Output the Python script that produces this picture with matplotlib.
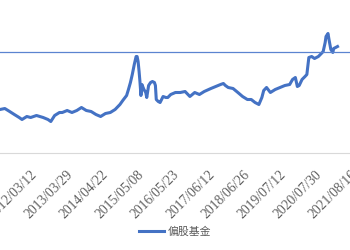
import matplotlib
matplotlib.use("Agg")
import matplotlib.pyplot as plt

# trading-day index of each sample and fund index level
day_index = [0, 34, 68, 101, 135, 155, 189, 216, 257, 304, 338, 358, 385, 419, 439, 473,
             507, 541, 574, 608, 642, 676, 709, 743, 777, 811, 845, 865, 892, 905, 919, 932,
             946, 959, 966, 973, 980, 986, 993, 1000, 1014, 1027, 1034, 1047, 1061, 1074,
             1088, 1095, 1101, 1115, 1128, 1149, 1169, 1182, 1203, 1236, 1270, 1304, 1338,
             1372, 1405, 1439, 1486, 1520, 1554, 1574, 1588, 1608, 1642, 1676, 1709, 1743,
             1770, 1797, 1824, 1845, 1858, 1878, 1905, 1939, 1973, 2007, 2041, 2061, 2081,
             2095, 2108, 2128, 2149, 2162, 2176, 2196, 2216, 2243, 2264, 2277, 2291, 2297,
             2311, 2318, 2331, 2345, 2351, 2365, 2378]
fund_values = [4300, 4400, 4100, 3800, 3500, 3300, 3600, 3500, 3700, 3500, 3300, 3100, 3700,
               4000, 4000, 4200, 4000, 4200, 4500, 4200, 4100, 3800, 3600, 3900, 4000, 4300,
               4800, 5200, 5700, 6300, 7000, 7800, 8800, 9600, 9600, 9100, 8100, 7100, 5700,
               6800, 6300, 6000, 5500, 6700, 7000, 7100, 7000, 6700, 5300, 5100, 5000, 5600,
               5500, 5500, 5800, 6000, 6000, 6100, 5600, 6000, 5800, 6100, 6400, 6600, 6800,
               6900, 6700, 6500, 6400, 6000, 5600, 5300, 5300, 5000, 4800, 5500, 6200, 6500,
               6000, 6300, 6500, 6700, 6800, 7300, 7500, 6600, 6700, 7300, 7600, 7800, 9500,
               9600, 9400, 9600, 9900, 10100, 11000, 11600, 11900, 11300, 10300, 10000, 10400,
               10500, 10600]
reference_level = 10100

tick_days = [216, 466, 716, 966, 1216, 1466, 1716, 1966, 2216, 2466]
tick_labels = ['2012/03/12', '2013/03/29', '2014/04/22', '2015/05/08', '2016/05/23',
               '2017/06/12', '2018/06/26', '2019/07/12', '2020/07/30', '2021/08/16']
series_name = '偏股基金'

blue = '#4472C4'
gray = '#595959'

fig = plt.figure(figsize=(3.5, 2.5), dpi=100)
ax = fig.add_axes([0.0, 1 - 152.5 / 250, 1.0, 152.5 / 250])
ax.set_xlim(0, 350 * 250 / 37)
ax.set_ylim(0, 15250)

line, = ax.plot(day_index, fund_values, color=blue, lw=2.2, label=series_name,
                solid_joinstyle='round')
ax.axhline(reference_level, color='#5b84d0', lw=0.9)

for s in ['top', 'left', 'right']:
    ax.spines[s].set_visible(False)
ax.spines['bottom'].set_color('#d9d9d9')
ax.spines['bottom'].set_linewidth(0.8)
ax.set_yticks([])
ax.set_xticks(tick_days)
ax.set_xticklabels(tick_labels, rotation=45, ha='right', va='top',
                   rotation_mode='anchor', family='Liberation Serif',
                   fontsize=9.8, color='#606060')
ax.tick_params(axis='x', length=0, pad=11)

leg = fig.legend(handles=[line], labels=[series_name], loc='center',
                 bbox_to_anchor=(0.5, 1 - 232 / 250), frameon=False,
                 handlelength=2.3, handletextpad=0.3,
                 prop={'family': ['Noto Sans CJK SC', 'DejaVu Sans'], 'size': 7.8})
for t in leg.get_texts():
    t.set_color(gray)

fig.savefig('out.png', dpi=100)
